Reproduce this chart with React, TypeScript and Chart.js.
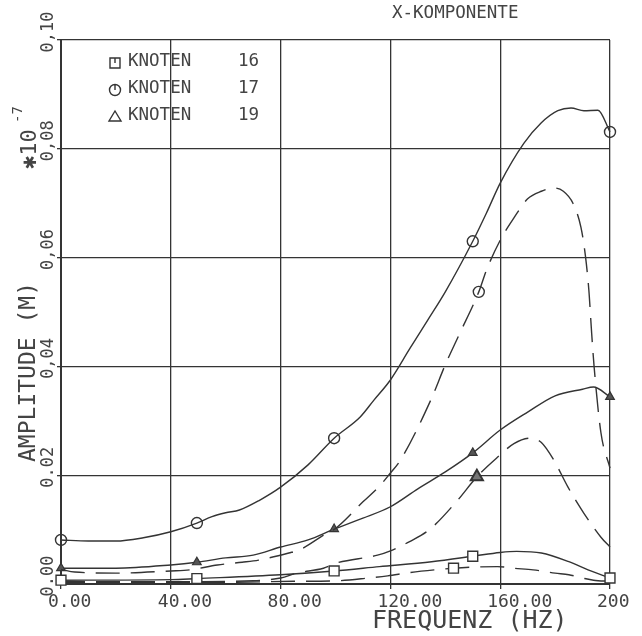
import React, { useEffect, useRef } from "react";
import { Chart, registerables } from "chart.js";

Chart.register(...registerables);

// ---- axis ticks ----
const X_TICKS = [0, 40, 80, 120, 160, 200];
const X_TICK_LABELS = ["0.00", "40.00", "80.00", "120.00", "160.00", "200"];
const Y_TICKS = [0, 0.02, 0.04, 0.06, 0.08, 0.1];
const Y_TICK_LABELS = ["0.00", "0.02", "0,04", "0,06", "0,08", "0,10"];

const TITLE = "X-KOMPONENTE";
const X_TITLE = "FREQUENZ (HZ)";
const Y_TITLE = "AMPLITUDE (M)";
const LEGEND_NAMES = ["KNOTEN", "KNOTEN", "KNOTEN"];
const LEGEND_NUMBERS = ["16", "17", "19"];

// ---- KNOTEN 16 (squares) ----
const K16_SOLID_X = [0, 40, 49.5, 80, 99.5, 116, 135, 150, 160, 166, 175, 185, 192, 200];
const K16_SOLID_Y = [0.0007, 0.0008, 0.001, 0.0017, 0.0024, 0.0032, 0.0041, 0.0051, 0.0058, 0.006, 0.0057, 0.0041, 0.0026, 0.0011];
const K16_SOLID_MARKS = [0, 49.5, 99.5, 150, 200];

const K16_DASH_X = [0, 40, 60, 85, 101, 112, 119, 127, 136, 143, 150, 159, 165, 172, 180, 185, 190, 194, 200];
const K16_DASH_Y = [0.0003, 0.0003, 0.0003, 0.0005, 0.0006, 0.0011, 0.0015, 0.0021, 0.0026, 0.0029, 0.0031, 0.0032, 0.0029, 0.0026, 0.002, 0.0017, 0.0011, 0.0007, 0.0005];
const K16_DASH_MARKS = [143];

// ---- KNOTEN 17 (circles) ----
const K17_SOLID_X = [0, 10, 20, 30, 40, 49.5, 55, 60, 65, 72, 80, 90, 99.5, 109, 114, 120, 127, 133.6, 140, 150, 155, 160, 168.6, 174.8, 181, 185.8, 190.5, 195.6, 200];
const K17_SOLID_Y = [0.0081, 0.0079, 0.0079, 0.0085, 0.0096, 0.0112, 0.0124, 0.0131, 0.0136, 0.0153, 0.0178, 0.0219, 0.0268, 0.0307, 0.0338, 0.0375, 0.0432, 0.0485, 0.0537, 0.063, 0.0682, 0.0737, 0.081, 0.0847, 0.087, 0.0875, 0.087, 0.0871, 0.0831];
const K17_SOLID_MARKS = [0, 49.5, 99.5, 150, 200];

const K17_DASH_X = [0, 5, 20, 40, 47, 57, 66, 72, 83, 87, 97, 100, 110, 116.4, 120, 123.7, 134.7, 140, 145, 152.2, 155, 160, 165, 170, 175, 179.6, 183, 186.5, 189.4, 191, 192.3, 193.2, 194.2, 196.7, 200];
const K17_DASH_Y = [0.0027, 0.0022, 0.002, 0.0024, 0.0026, 0.0035, 0.004, 0.0044, 0.0057, 0.0063, 0.0094, 0.0102, 0.0151, 0.0182, 0.0204, 0.0228, 0.0338, 0.0403, 0.0458, 0.0537, 0.0577, 0.0632, 0.0673, 0.0708, 0.0722, 0.0728, 0.0722, 0.07, 0.0656, 0.0605, 0.054, 0.047, 0.04, 0.0278, 0.0213];
const K17_DASH_MARKS = [152.2];

// ---- KNOTEN 19 (triangles) ----
const K19_SOLID_X = [0, 20, 40, 49.5, 60, 70, 80, 90, 99.5, 110, 120, 130, 140, 150, 160, 170, 180, 190, 194, 200];
const K19_SOLID_Y = [0.0029, 0.0029, 0.0035, 0.004, 0.0048, 0.0053, 0.0068, 0.0081, 0.0101, 0.0121, 0.0142, 0.0175, 0.0206, 0.0241, 0.0283, 0.0316, 0.0346, 0.0358, 0.0362, 0.0344];
const K19_SOLID_MARKS = [0, 49.5, 99.5, 150, 200];

const K19_DASH_X = [0, 40, 70, 80, 86, 95.6, 100.7, 115.3, 120, 127, 134.7, 144.5, 151.5, 159, 165, 171, 175, 179.5, 184.7, 190.5, 196.7, 200];
const K19_DASH_Y = [0.0004, 0.0004, 0.0006, 0.0011, 0.002, 0.0029, 0.0039, 0.0053, 0.0061, 0.0078, 0.0102, 0.0154, 0.0197, 0.0233, 0.0258, 0.0268, 0.026, 0.0228, 0.0178, 0.013, 0.0086, 0.0068];
const K19_DASH_MARKS = [151.5];

const INK = "#343434";
const TEXT = "#444444";
const MONO = '"DejaVu Sans Mono", monospace';

function series(
  xs: number[],
  ys: number[],
  marks: number[],
  style: string,
  dashed: boolean,
  radius: number,
  fillColor: string,
  pbw: number
) {
  return {
    data: xs.map((x, i) => ({ x, y: ys[i] })),
    borderColor: INK,
    borderWidth: 1.4,
    borderDash: dashed ? [24, 11] : [],
    pointStyle: style,
    pointRadius: (ctx: any) => (ctx.raw && marks.includes(ctx.raw.x) ? radius : 0),
    pointHoverRadius: 0,
    pointBorderColor: INK,
    pointBackgroundColor: fillColor,
    pointBorderWidth: pbw,
    cubicInterpolationMode: "monotone" as const,
    fill: false,
    clip: false as any,
  };
}

const textPlugin = {
  id: "plotterText",
  afterDraw(chart: any) {
    const ctx: CanvasRenderingContext2D = chart.ctx;
    const xs = chart.scales.x;
    const ys = chart.scales.y;
    ctx.save();
    ctx.fillStyle = TEXT;

    // x tick labels
    ctx.font = `18px ${MONO}`;
    ctx.textAlign = "left";
    ctx.textBaseline = "alphabetic";
    X_TICKS.forEach((v, i) => {
      ctx.fillText(X_TICK_LABELS[i], xs.getPixelForValue(v) - 13, 607);
    });

    // y tick labels (rotated)
    Y_TICKS.forEach((v, i) => {
      const py = ys.getPixelForValue(v);
      ctx.save();
      ctx.translate(53, py - 8);
      ctx.rotate(-Math.PI / 2);
      ctx.font = `17px ${MONO}`;
      ctx.textAlign = "center";
      ctx.fillText(Y_TICK_LABELS[i], 0, 0);
      ctx.restore();
    });

    // y title
    ctx.save();
    ctx.translate(35, 372);
    ctx.rotate(-Math.PI / 2);
    ctx.font = `23px ${MONO}`;
    ctx.textAlign = "center";
    ctx.fillText(Y_TITLE, 0, 0);
    ctx.restore();

    // scale factor *10^-7
    ctx.save();
    ctx.translate(36, 169);
    ctx.rotate(-Math.PI / 2);
    ctx.textAlign = "left";
    ctx.font = `22px ${MONO}`;
    ctx.fillText("\u273110", 0, 0);
    ctx.font = `14px ${MONO}`;
    ctx.fillText("-7", 46, -14);
    ctx.restore();

    // x title
    ctx.font = `25px ${MONO}`;
    ctx.textAlign = "left";
    ctx.fillText(X_TITLE, 372, 628);

    // title
    ctx.font = `17.5px ${MONO}`;
    ctx.fillText(TITLE, 392, 18);

    // legend
    const rows = [66, 93, 120];
    ctx.font = `17.5px ${MONO}`;
    rows.forEach((by, i) => {
      ctx.fillStyle = TEXT;
      ctx.fillText(LEGEND_NAMES[i], 128, by);
      ctx.fillText(LEGEND_NUMBERS[i], 238, by);
      const cx = 115;
      const cy = by - 3;
      ctx.strokeStyle = INK;
      ctx.lineWidth = 1.4;
      ctx.beginPath();
      if (i === 0) {
        ctx.rect(cx - 5, cy - 5, 10, 10);
        ctx.moveTo(cx, cy - 5);
        ctx.lineTo(cx, cy);
      } else if (i === 1) {
        ctx.arc(cx, cy, 5.5, 0, Math.PI * 2);
        ctx.moveTo(cx, cy - 5.5);
        ctx.lineTo(cx, cy);
      } else {
        ctx.moveTo(cx - 6, cy + 4);
        ctx.lineTo(cx + 6, cy + 4);
        ctx.lineTo(cx, cy - 6);
        ctx.closePath();
      }
      ctx.stroke();
    });

    ctx.restore();
  },
};

export default function App() {
  const ref = useRef<HTMLCanvasElement | null>(null);

  useEffect(() => {
    if (!ref.current) return;
    const chart = new Chart(ref.current, {
      type: "line",
      data: {
        datasets: [
          series(K16_SOLID_X, K16_SOLID_Y, K16_SOLID_MARKS, "rect", false, 7, "#ffffff", 1.4),
          series(K16_DASH_X, K16_DASH_Y, K16_DASH_MARKS, "rect", true, 7, "#ffffff", 1.4),
          series(K17_SOLID_X, K17_SOLID_Y, K17_SOLID_MARKS, "circle", false, 5.5, "rgba(255,255,255,0)", 1.4),
          series(K17_DASH_X, K17_DASH_Y, K17_DASH_MARKS, "circle", true, 5.5, "rgba(255,255,255,0)", 1.4),
          series(K19_SOLID_X, K19_SOLID_Y, K19_SOLID_MARKS, "triangle", false, 5, "#555555", 1.2),
          series(K19_DASH_X, K19_DASH_Y, K19_DASH_MARKS, "triangle", true, 7, "#777777", 2),
        ] as any,
      },
      options: {
        animation: false,
        responsive: false,
        devicePixelRatio: 1,
        events: [],
        layout: { padding: { left: 56, right: 32, top: 40, bottom: 47 } },
        plugins: {
          legend: { display: false },
          tooltip: { enabled: false },
          title: { display: false },
        },
        scales: {
          x: {
            type: "linear",
            min: 0,
            max: 200,
            afterBuildTicks: (s: any) => {
              s.ticks = X_TICKS.map((v) => ({ value: v }));
            },
            afterFit: (s: any) => {
              s.height = 5;
            },
            ticks: { display: false },
            grid: { color: INK, lineWidth: 1.3, tickLength: 5, drawTicks: true },
            border: { display: true, color: INK, width: 2 },
          },
          y: {
            type: "linear",
            min: 0,
            max: 0.1,
            afterBuildTicks: (s: any) => {
              s.ticks = Y_TICKS.map((v) => ({ value: v }));
            },
            afterFit: (s: any) => {
              s.width = 5;
            },
            ticks: { display: false },
            grid: { color: INK, lineWidth: 1.3, tickLength: 4, drawTicks: true },
            border: { display: true, color: INK, width: 2 },
          },
        },
      } as any,
      plugins: [textPlugin],
    });
    return () => chart.destroy();
  }, []);

  return (
    <div style={{ position: "absolute", left: 0, top: 0, width: 642, height: 636, background: "#fff" }}>
      <canvas ref={ref} width={642} height={636} style={{ display: "block" }} />
    </div>
  );
}
